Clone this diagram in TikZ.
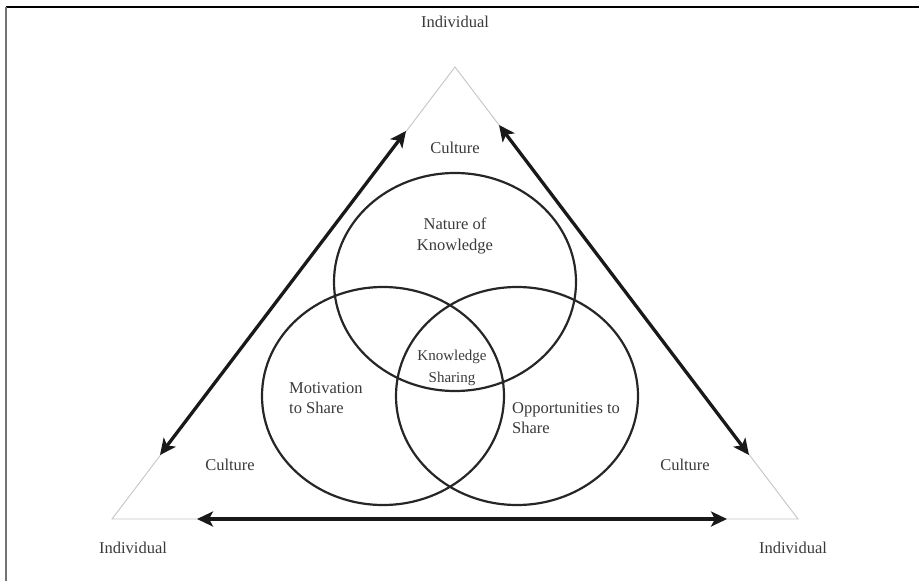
\documentclass[tikz,border=0pt]{standalone}
\usepackage{fontspec}
\setmainfont{Liberation Serif}
\usetikzlibrary{arrows.meta,shapes.geometric}

\definecolor{inkgray}{HTML}{3A3A3A}
\definecolor{edgegray}{HTML}{C4C4C4}

\tikzset{
  frameline/.style={line width=1.8pt},
  edgeline/.style={draw=edgegray, line width=0.9pt},
  bigarrow/.style={line width=3.3pt, draw=black!90,
    {Stealth[length=16pt,width=15pt,inset=4pt]}-{Stealth[length=16pt,width=15pt,inset=4pt]}},
  factor/.style={ellipse, draw=black!85, line width=2.2pt, inner sep=0pt,
                 minimum width=242pt, minimum height=218pt},
  label/.style={text=inkgray, font=\fontsize{16.5}{20.5}\selectfont, inner sep=0pt},
  smalllabel/.style={text=inkgray, font=\fontsize{15}{22}\selectfont, inner sep=0pt},
}

\begin{document}
\begin{tikzpicture}[x=1pt, y=-1pt]
  \useasboundingbox (0,0) rectangle (919,581);

  % outer frame (top and left rules only)
  \draw[frameline, black] (6,7) -- (919,7);
  \draw[frameline, black!55] (6,7) -- (6,581);

  % corners of the culture triangle
  \coordinate (top) at (455,67);
  \coordinate (bl)  at (112,519);
  \coordinate (br)  at (798,519);
  \draw[edgeline] (top) -- (bl) -- (br) -- cycle;

  % arrow end points along the triangle sides
  \coordinate (la) at (406,131);
  \coordinate (lb) at (160,455);
  \coordinate (ra) at (499,125);
  \coordinate (rb) at (749,455);
  \coordinate (ba) at (197,519);
  \coordinate (bb) at (727,519);

  \draw[bigarrow] (la) -- (lb);
  \draw[bigarrow] (ra) -- (rb);
  \draw[bigarrow] (ba) -- (bb);

  % the three overlapping factors
  \node[factor] (nature) at (455,282) {};
  \node[factor] (motiv)  at (383,396) {};
  \node[factor] (oppor)  at (517,396) {};

  % corner and culture labels
  \node[label] (indtop) at (455,22)  {Individual};
  \node[label] (indbl)  at (133,548) {Individual};
  \node[label] (indbr)  at (793,548) {Individual};
  \node[label] (cultop) at (455,148) {Culture};
  \node[label] (cultbl) at (230,465) {Culture};
  \node[label] (cultbr) at (685,465) {Culture};

  % factor labels
  \node[label, align=center] (naturetxt) at (455,236) {Nature of\\Knowledge};
  \node[label, align=left, anchor=west] (motivtxt) at (289,398) {Motivation\\to Share};
  \node[label, align=left, anchor=west] (oppotxt) at (512,418) {Opportunities to\\Share};
  \node[smalllabel, align=center] (kstxt) at (452,368) {Knowledge\\Sharing};
\end{tikzpicture}
\end{document}
